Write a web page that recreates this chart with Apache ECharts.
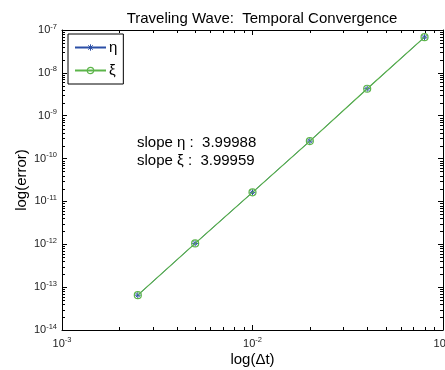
<!DOCTYPE html>
<html><head><meta charset="utf-8">
<script src="https://cdn.jsdelivr.net/npm/echarts@6/dist/echarts.min.js"></script>
<style>html,body{margin:0;padding:0;background:#fff}#c{width:445px;height:370px}</style>
</head><body><div id="c"></div>
<script>
const dt = [0.0025, 0.005, 0.01, 0.02, 0.04, 0.08];
const errEta = [6.5e-14, 1.05e-12, 1.63e-11, 2.56e-10, 4.26e-9, 6.8e-8];
const errXi = [6.5e-14, 1.05e-12, 1.63e-11, 2.56e-10, 4.26e-9, 6.8e-8];
const seriesNames = ['η', 'ξ'];
const xMin = 1e-3, xMax = 1e-1;
const yMin = 1e-14, yMax = 1e-7;
const titleText = 'Traveling Wave:  Temporal Convergence';
const xName = 'log(Δt)';
const yName = 'log(error)';
const slopeLines = ['slope η :  3.99988', 'slope ξ :  3.99959'];

const FONT = '"Liberation Sans", Arial, Helvetica, sans-serif';
const minorX = [], minorY = [];
for (let e = -3; e < -1; e++) for (let m = 2; m <= 9; m++) minorX.push(m * Math.pow(10, e));
for (let e = -14; e < -7; e++) for (let m = 2; m <= 9; m++) minorY.push(m * Math.pow(10, e));

function supLabel(v) {
  const e = Math.round(Math.log10(v));
  return '{b|10}{s|' + e + '}';
}
const richLbl = {
  b: { fontSize: 11, color: '#222', fontFamily: FONT },
  s: { fontSize: 7.5, color: '#222', fontFamily: FONT, padding: [0, 0, 7, 0] }
};
const asterisk = 'path://M5,0L5,10M0,5L10,5M1.5,1.5L8.5,8.5M1.5,8.5L8.5,1.5';
const BLUE = '#2b4fa6', GREEN = '#5cb54a';

function minorTicks(axis, values) {
  return {
    type: 'custom', silent: true, clip: false, z: 5,
    data: values.map(v => axis === 'x' ? [v, 1e-10] : [0.01, v]),
    renderItem: (params, api) => {
      const cs = params.coordSys; const L = 3;
      const st = { stroke: '#000', lineWidth: 1 };
      if (axis === 'x') {
        const px = Math.round(api.coord([api.value(0), 1e-10])[0]) + 0.5;
        return { type: 'group', children: [
          { type: 'line', shape: { x1: px, y1: cs.y + cs.height, x2: px, y2: cs.y + cs.height - L }, style: st },
          { type: 'line', shape: { x1: px, y1: cs.y, x2: px, y2: cs.y + L }, style: st }
        ] };
      } else {
        const py = Math.round(api.coord([0.01, api.value(1)])[1]) + 0.5;
        return { type: 'group', children: [
          { type: 'line', shape: { x1: cs.x, y1: py, x2: cs.x + L, y2: py }, style: st },
          { type: 'line', shape: { x1: cs.x + cs.width, y1: py, x2: cs.x + cs.width - L, y2: py }, style: st }
        ] };
      }
    }
  };
}

const axisLine = { show: true, lineStyle: { color: '#000', width: 1 } };
const tick = { show: true, inside: true, length: 5, lineStyle: { color: '#000' } };

const chart = echarts.init(document.getElementById('c'), null, { renderer: 'canvas' });
chart.setOption({
  animation: false,
  backgroundColor: '#fff',
  title: { text: titleText, left: 257, top: 6, textAlign: 'center',
    textStyle: { fontSize: 15, fontWeight: 'normal', color: '#000', fontFamily: FONT } },
  grid: { left: 62, right: 2, top: 30, bottom: 40, outerBoundsMode: 'none', containLabel: false },
  legend: {
    data: [
      { name: seriesNames[0], itemStyle: { color: 'none', borderColor: BLUE, borderWidth: 1 } },
      { name: seriesNames[1], itemStyle: { color: 'none', borderColor: GREEN, borderWidth: 1.2 } }
    ],
    orient: 'vertical', left: 68, top: 34,
    itemWidth: 31, itemHeight: 8, itemGap: 8, padding: [6, 6, 6, 6],
    borderColor: '#000', borderWidth: 1, backgroundColor: '#fff', borderRadius: 0,
    textStyle: { fontSize: 15, lineHeight: 12, color: '#000', fontFamily: FONT, padding: [0, 0, 0, -2] }
  },
  xAxis: [
    { type: 'log', logBase: 10, min: xMin, max: xMax, position: 'bottom',
      name: xName, nameLocation: 'middle', nameGap: 22, nameMoveOverlap: false,
      nameTextStyle: { fontSize: 15, color: '#000', fontFamily: FONT },
      axisLine, axisTick: tick, splitLine: { show: false },
      axisLabel: { margin: 6, formatter: supLabel, rich: richLbl, hideOverlap: false } },
    { type: 'log', logBase: 10, min: xMin, max: xMax, position: 'top',
      axisLine, axisTick: tick, splitLine: { show: false }, axisLabel: { show: false } }
  ],
  yAxis: [
    { type: 'log', logBase: 10, min: yMin, max: yMax, position: 'left',
      name: yName, nameLocation: 'middle', nameGap: 33, nameRotate: 90, nameMoveOverlap: false,
      nameTextStyle: { fontSize: 15, color: '#000', fontFamily: FONT },
      axisLine, axisTick: tick, splitLine: { show: false },
      axisLabel: { margin: 5, formatter: supLabel, rich: richLbl } },
    { type: 'log', logBase: 10, min: yMin, max: yMax, position: 'right',
      axisLine, axisTick: tick, splitLine: { show: false }, axisLabel: { show: false } }
  ],
  graphic: slopeLines.map((t, i) => ({
    type: 'text', left: 137, top: 135 + i * 18,
    style: { text: t, fontSize: 15, fill: '#000', fontFamily: FONT }
  })),
  series: [
    { name: seriesNames[0], type: 'line', data: dt.map((d, i) => [d, errEta[i]]),
      symbol: asterisk, symbolSize: 6, showAllSymbol: true,
      lineStyle: { color: BLUE, width: 1 },
      itemStyle: { color: 'none', borderColor: BLUE, borderWidth: 1 }, z: 3 },
    { name: seriesNames[1], type: 'line', data: dt.map((d, i) => [d, errXi[i]]),
      symbol: 'circle', symbolSize: 7, showAllSymbol: true,
      lineStyle: { color: GREEN, width: 1.2 },
      itemStyle: { color: 'none', borderColor: GREEN, borderWidth: 1.2 }, z: 4 },
    minorTicks('x', minorX),
    minorTicks('y', minorY)
  ]
});
</script></body></html>
